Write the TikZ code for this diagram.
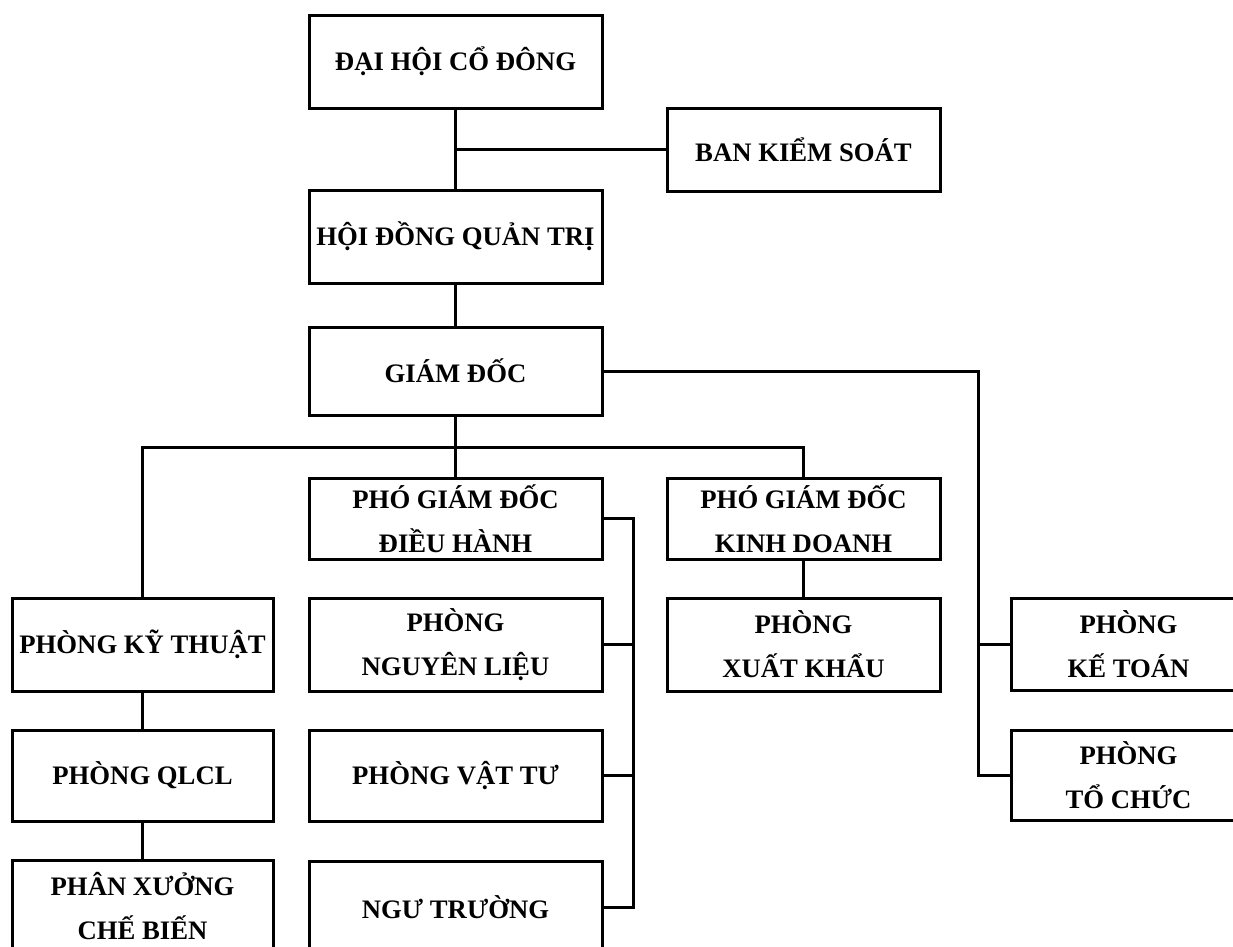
\documentclass[tikz,border=0pt]{standalone}
\usepackage{fontspec}
\setmainfont{Liberation Serif}
\begin{document}
\begin{tikzpicture}[x=1pt,y=-1pt,
  box/.style={draw, line width=3pt, inner sep=0pt, align=center,
    font=\fontsize{26.7}{44}\selectfont\bfseries},
  wide/.style={minimum width=293pt},
  narrow/.style={minimum width=261pt},
  mid/.style={minimum width=273pt},
  conn/.style={line width=3pt}]
\useasboundingbox (0,0) rectangle (1233,946);
\begin{scope}
\clip (0,0) rectangle (1233,946);
\fill[white] (0,0) rectangle (1233,946);
\node[box,wide,minimum height=93pt] (dh) at (455.5,61.5) {ĐẠI HỘI CỔ ĐÔNG};
\node[box,mid,minimum height=83pt] (bks) at (803.5,149.5) {BAN KIỂM SOÁT};
\node[box,wide,minimum height=93pt] (hdqt) at (455.5,236.5) {HỘI ĐỒNG QUẢN TRỊ};
\node[box,wide,minimum height=88pt] (gd) at (455.5,371) {GIÁM ĐỐC};
\node[box,wide,minimum height=81pt] (pgddh) at (455.5,518.5) {PHÓ GIÁM ĐỐC\\ĐIỀU HÀNH};
\node[box,mid,minimum height=81pt] (pgdkd) at (803.5,518.5) {PHÓ GIÁM ĐỐC\\KINH DOANH};
\node[box,narrow,minimum height=93pt] (pkt) at (142.5,644.5) {PHÒNG KỸ THUẬT};
\node[box,wide,minimum height=93pt] (pnl) at (455.5,644.5) {PHÒNG\\NGUYÊN LIỆU};
\node[box,mid,minimum height=93pt] (pxk) at (803.5,644.5) {PHÒNG\\XUẤT KHẨU};
\node[box,minimum width=235pt,minimum height=92pt] (pkto) at (1128.5,644) {PHÒNG\\KẾ TOÁN};
\node[box,narrow,minimum height=91pt] (qlcl) at (142.5,775.5) {PHÒNG QLCL};
\node[box,wide,minimum height=91pt] (pvt) at (455.5,775.5) {PHÒNG VẬT TƯ};
\node[box,minimum width=235pt,minimum height=90pt] (ptc) at (1128.5,775) {PHÒNG\\TỔ CHỨC};
\node[box,narrow,minimum height=93pt] (pxcb) at (142.5,906.5) {PHÂN XƯỞNG\\CHẾ BIẾN};
\node[box,wide,minimum height=92pt] (ngt) at (455.5,907) {NGƯ TRƯỜNG};

\coordinate (rb) at (978,0);
\coordinate (bus) at (0,447);
\coordinate (lb) at (633,0);

\draw[conn] (dh.south) -- (hdqt.north);
\draw[conn] (dh.south |- bks.west) -- (bks.west);
\draw[conn] (hdqt.south) -- (gd.north);
\draw[conn] (gd.east) -- (gd.east -| rb) -- (ptc.west -| rb) -- (ptc.west);
\draw[conn] (pkto.west -| rb) -- (pkto.west);
\draw[conn] (gd.south) -- (pgddh.north);
\draw[conn] (pkt.north) -- (pkt.north |- bus) -- (pgdkd.north |- bus) -- (pgdkd.north);
\draw[conn] (pkt.south) -- (qlcl.north);
\draw[conn] (qlcl.south) -- (pxcb.north);
\draw[conn] (pgdkd.south) -- (pxk.north);
\draw[conn] (pgddh.east) -- (pgddh.east -| lb) -- (ngt.east -| lb) -- (ngt.east);
\draw[conn] (pnl.east) -- (pnl.east -| lb);
\draw[conn] (pvt.east) -- (pvt.east -| lb);
\end{scope}
\end{tikzpicture}
\end{document}
